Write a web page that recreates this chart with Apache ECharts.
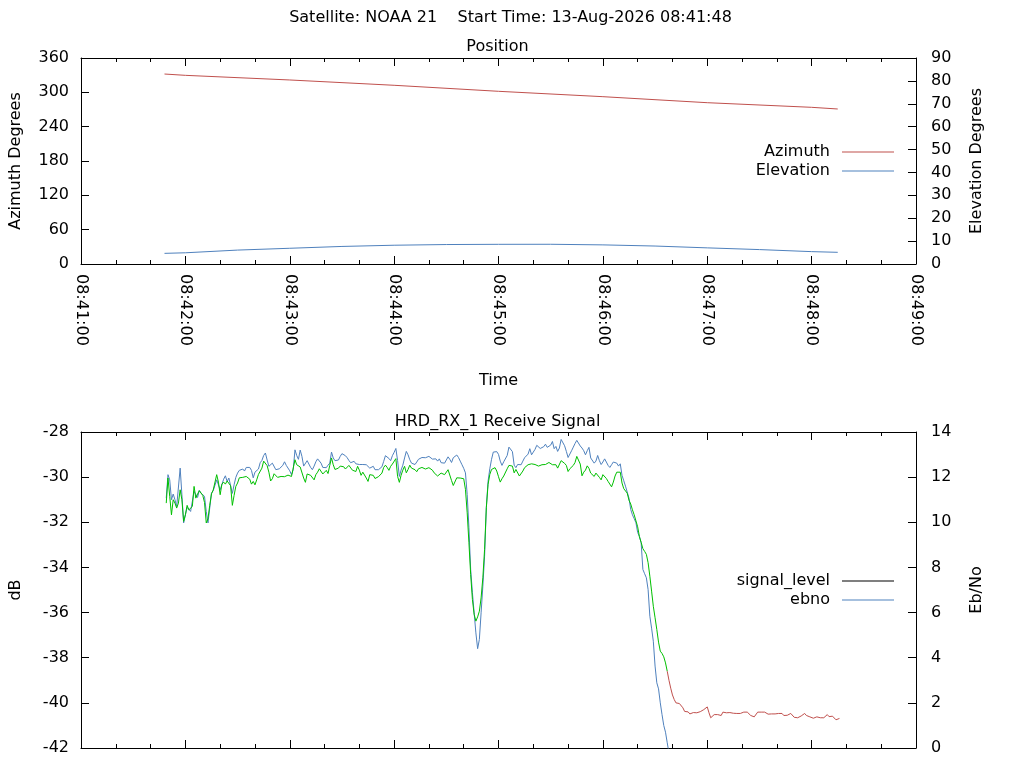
<!DOCTYPE html>
<html>
<head>
<meta charset="utf-8">
<script src="https://cdn.jsdelivr.net/npm/echarts@6/dist/echarts.min.js"></script>
<style>html,body{margin:0;padding:0;background:#fff}#chart{width:1024px;height:768px}</style>
</head>
<body>
<div id="chart"></div>
<script>
// ---------- text ----------
const chartTitle = 'Satellite: NOAA 21    Start Time: 13-Aug-2026 08:41:48';
const positionTitle = 'Position';
const signalTitle = 'HRD_RX_1 Receive Signal';
const axisStartClock = [8, 41, 0];          // 08:41:00 = 0 s on the time axis
const axisEndSec = 480;                     // 08:49:00
const axisStepSec = 60;

// ---------- Position panel (seconds after 08:41:00) ----------
const azSeconds = [48, 60, 120, 180, 240, 300, 360, 420, 435];
const azimuth   = [332.0, 329.7, 321.6, 312.3, 301.8, 292.4, 281.9, 273.8, 270.9];
const elSeconds = [48, 60, 90, 120, 150, 180, 210, 240, 270, 300, 330, 360, 390, 420, 435];
const elevation = [4.65, 4.9, 6.08, 6.87, 7.67, 8.2, 8.5, 8.6, 8.62, 8.35, 7.85, 7.05, 6.3, 5.4, 5.1];

// ---------- Receive signal panel: 1 sample per second starting at 49 s ----------
const sampleStartSec = 49;
const lockLostSec = 337;   // signal drawn green while locked, red afterwards
const signalDb = [
 -31.15,-30.04,-30.85,-31.67,-31.00,-31.15,-31.37,-31.15,-30.56,-31.00,
 -31.96,-31.67,-31.25,-31.45,-31.52,-31.30,-30.41,-30.93,-30.75,-30.60,
 -30.63,-30.81,-31.12,-32.03,-31.84,-31.25,-30.74,-30.57,-30.63,-29.89,
 -30.22,-30.78,-30.31,-30.22,-30.31,-30.17,-30.14,-30.38,-31.25,-30.81,
 -30.41,-30.26,-30.03,-29.97,-30.01,-29.98,-29.97,-29.97,-30.09,-30.31,
 -30.19,-30.34,-30.12,-29.88,-29.81,-29.60,-29.29,-29.27,-29.49,-29.78,
 -30.17,-30.07,-29.85,-29.89,-30.01,-30.00,-29.97,-30.01,-29.98,-30.03,
 -29.91,-29.89,-29.97,-30.04,-29.23,-29.45,-29.39,-29.55,-29.51,-30.04,
 -30.23,-29.86,-29.86,-29.92,-29.89,-30.12,-29.89,-29.78,-29.63,-29.70,
 -29.86,-29.84,-29.70,-29.84,-29.48,-29.15,-29.45,-29.66,-29.60,-29.60,
 -29.51,-29.47,-29.54,-29.64,-29.57,-29.48,-29.51,-29.69,-29.66,-29.75,
 -29.52,-29.69,-29.92,-29.78,-29.82,-30.04,-30.19,-29.89,-29.82,-29.92,
 -30.06,-30.10,-29.98,-30.01,-29.82,-29.57,-29.47,-29.57,-29.70,-29.52,
 -29.42,-29.39,-29.18,-29.97,-30.23,-29.92,-29.69,-29.52,-29.81,-29.66,
 -29.47,-29.60,-29.54,-29.67,-29.76,-29.63,-29.64,-29.57,-29.55,-29.64,
 -29.57,-29.58,-29.66,-29.69,-29.81,-29.88,-29.95,-29.89,-29.82,-29.82,
 -29.89,-29.81,-29.67,-29.73,-30.15,-30.37,-30.34,-30.03,-30.00,-30.04,
 -30.01,-30.07,-30.54,-31.58,-32.91,-34.31,-35.42,-36.08,-36.38,-36.19,
 -35.94,-35.35,-34.46,-33.20,-31.36,-30.32,-29.88,-29.66,-29.58,-29.58,
 -29.73,-29.98,-30.22,-30.07,-29.95,-29.88,-29.63,-29.48,-29.44,-29.51,
 -29.81,-29.66,-29.73,-29.95,-29.88,-29.73,-29.58,-29.51,-29.45,-29.44,
 -29.41,-29.41,-29.44,-29.48,-29.51,-29.57,-29.45,-29.38,-29.44,-29.51,
 -29.35,-29.36,-29.45,-29.52,-29.45,-29.60,-29.60,-29.27,-29.21,-29.39,
 -29.48,-29.75,-29.63,-29.61,-29.48,-29.35,-29.08,-29.15,-29.42,-29.94,
 -29.78,-29.69,-29.50,-29.61,-29.82,-29.89,-29.97,-29.82,-29.81,-30.01,
 -30.12,-29.89,-29.92,-30.06,-30.19,-30.26,-30.43,-30.22,-29.95,-29.78,
 -29.84,-29.78,-30.26,-30.51,-30.56,-30.71,-31.02,-31.19,-31.45,-31.67,
 -31.71,-32.20,-32.64,-32.89,-33.17,-33.29,-33.42,-33.79,-34.39,-35.05,
 -35.72,-36.23,-36.75,-37.31,-37.71,-37.81,-37.96,-38.23,-38.60,-39.00,
 -39.35,-39.65,-39.85,-40.00,-40.07,-40.03,-40.09,-40.22,-40.38,-40.41,
 -40.40,-40.49,-40.43,-40.43,-40.44,-40.44,-40.44,-40.39,-40.44,-40.30,
 -40.37,-40.18,-40.44,-40.66,-40.59,-40.52,-40.47,-40.52,-40.53,-40.56,
 -40.41,-40.44,-40.44,-40.44,-40.43,-40.44,-40.46,-40.47,-40.47,-40.47,
 -40.47,-40.41,-40.41,-40.41,-40.41,-40.49,-40.56,-40.52,-40.62,-40.66,
 -40.41,-40.41,-40.41,-40.41,-40.41,-40.43,-40.50,-40.55,-40.49,-40.55,
 -40.49,-40.47,-40.47,-40.47,-40.47,-40.56,-40.56,-40.55,-40.49,-40.47,
 -40.55,-40.64,-40.59,-40.66,-40.58,-40.58,-40.50,-40.47,-40.56,-40.62,
 -40.62,-40.61,-40.68,-40.62,-40.62,-40.62,-40.66,-40.59,-40.66,-40.66,
 -40.52,-40.61,-40.68,-40.59,-40.66,-40.75,-40.75,-40.69
];
const ebno = [
 11.07,12.11,11.88,11.00,11.25,11.00,10.70,10.75,12.40,11.22,
 9.97,10.33,10.66,10.70,10.48,10.47,11.37,11.44,11.10,11.41,
 11.29,11.37,11.15,10.48,9.97,10.63,11.29,11.40,11.44,11.88,
 11.87,11.44,11.48,11.91,12.06,11.81,11.96,11.90,11.28,11.66,
 11.99,12.18,12.30,12.37,12.36,12.27,12.43,12.42,12.43,12.30,
 11.97,12.22,12.18,12.36,12.64,12.74,12.96,13.07,12.76,12.48,
 12.43,12.62,12.55,12.33,12.30,12.37,12.30,12.52,12.68,12.52,
 12.53,12.28,12.11,12.33,13.21,12.96,12.79,13.20,12.92,12.49,
 12.42,12.73,12.74,12.43,12.33,12.49,12.68,12.81,12.89,12.62,
 12.43,12.48,12.42,12.53,12.62,13.11,12.85,12.73,12.70,12.76,
 12.92,13.04,13.02,12.95,12.86,12.74,12.64,12.67,12.70,12.59,
 12.58,12.56,12.61,12.56,12.50,12.55,12.48,12.40,12.48,12.48,
 12.33,12.33,12.33,12.36,12.46,12.70,12.95,12.96,12.83,12.73,
 12.95,13.10,13.27,12.73,12.03,12.31,12.53,12.85,13.14,12.99,
 12.77,12.62,12.55,12.56,12.67,12.79,12.86,12.87,12.86,12.86,
 12.90,12.92,12.89,12.80,12.83,12.81,12.71,12.81,12.64,12.70,
 12.62,12.76,12.90,12.79,12.65,12.86,12.93,12.98,12.87,12.71,
 12.55,12.39,12.19,11.23,9.76,7.91,6.88,5.99,5.10,4.40,
 4.81,5.99,7.17,8.50,10.64,11.82,12.37,12.79,13.11,13.15,
 13.13,13.01,12.71,12.52,12.68,12.68,12.96,13.33,13.35,13.13,
 12.53,12.42,12.56,12.49,12.55,12.71,12.86,12.93,13.02,13.26,
 12.99,13.11,13.23,13.41,13.39,13.27,13.26,13.35,13.46,13.32,
 13.33,13.42,13.58,13.26,13.36,13.14,13.29,13.67,13.66,13.39,
 13.14,12.87,12.95,13.17,13.33,13.49,13.63,13.58,13.38,13.29,
 13.17,12.99,13.17,13.32,12.85,12.77,12.62,12.71,12.96,12.73,
 12.56,12.67,12.81,12.67,12.52,12.43,12.55,12.67,12.65,12.62,
 12.49,12.59,12.08,11.84,11.60,11.55,11.07,10.57,10.33,10.16,
 9.98,9.55,9.37,9.09,7.91,7.72,7.54,7.02,5.84,5.31,
 4.73,3.63,2.89,2.62,2.00,1.48,1.00,0.70,0.23,-0.22
];

// ---------- colours ----------
const RED = '#c0504d', BLUE = '#4f81bd', GREEN = '#00c000', BLACK = '#000000';
const FONT = 'DejaVu Sans';
const txt = { fontFamily: FONT, fontSize: 16, color: '#000' };

function clock(sec) {
  const s = axisStartClock[0] * 3600 + axisStartClock[1] * 60 + axisStartClock[2] + sec;
  const h = Math.floor(s / 3600), m = Math.floor((s % 3600) / 60), ss = s % 60;
  return [h, m, ss].map(v => String(v).padStart(2, '0')).join(':');
}

function xAxisCfg(gridIndex, position, showLabels, name) {
  return {
    type: 'value', gridIndex, position, min: 0, max: axisEndSec, interval: axisStepSec,
    axisLine: { show: true, onZero: false, lineStyle: { color: '#000', width: 1 } },
    axisTick: { show: true, inside: true, length: 8, lineStyle: { color: '#000', width: 1 } },
    minorTick: { show: true, splitNumber: 3, length: 4, lineStyle: { color: '#000', width: 1 } },
    splitLine: { show: false }, minorSplitLine: { show: false },
    axisLabel: Object.assign({ show: showLabels, rotate: -90, margin: 10, formatter: clock,
                               showMinLabel: true, showMaxLabel: true }, txt),
    name: name || '', nameLocation: 'middle', nameGap: 109, nameTextStyle: txt
  };
}
function yAxisCfg(gridIndex, position, min, max, interval, name, margin, nameGap) {
  return {
    type: 'value', gridIndex, position, min, max, interval,
    axisLine: { show: true, onZero: false, lineStyle: { color: '#000', width: 1 } },
    axisTick: { show: true, inside: true, length: 8, lineStyle: { color: '#000', width: 1 } },
    splitLine: { show: false },
    axisLabel: Object.assign({ margin, showMinLabel: true, showMaxLabel: true }, txt),
    name, nameLocation: 'middle', nameRotate: 90, nameGap, nameTextStyle: txt
  };
}

const azData = azSeconds.map((t, i) => [t, azimuth[i]]);
const elData = elSeconds.map((t, i) => [t, elevation[i]]);
const sigData = signalDb.map((v, i) => [sampleStartSec + i, v]);
const lockedData = sigData.filter(d => d[0] <= lockLostSec);
const unlockedData = sigData.filter(d => d[0] >= lockLostSec);
const ebnoData = ebno.map((v, i) => [sampleStartSec + i, v]);

function lineSeries(name, color, xi, yi, data) {
  return { name, type: 'line', xAxisIndex: xi, yAxisIndex: yi, data, symbol: 'none',
           showSymbol: false, animation: false, clip: true,
           lineStyle: { color, width: 1 }, itemStyle: { color } };
}

const legendBase = {
  orient: 'vertical', align: 'right', right: 130, itemWidth: 52, itemHeight: 1, itemGap: 3,
  padding: 0, icon: 'rect', selectedMode: false,
  textStyle: Object.assign({ lineHeight: 16, padding: [0, 7, 0, 0] }, txt)
};

const option = {
  backgroundColor: '#fff',
  animation: false,
  textStyle: { fontFamily: FONT },
  title: [
    { text: chartTitle, left: 510.5, textAlign: 'center', top: 10, padding: 0,
      textStyle: Object.assign({ fontWeight: 'normal' }, txt) },
    { text: positionTitle, left: 497.5, textAlign: 'center', top: 39, padding: 0,
      textStyle: Object.assign({ fontWeight: 'normal' }, txt) },
    { text: signalTitle, left: 497.5, textAlign: 'center', top: 414, padding: 0,
      textStyle: Object.assign({ fontWeight: 'normal' }, txt) }
  ],
  legend: [
    Object.assign({ data: ['Azimuth', 'Elevation'], top: 144 }, legendBase),
    Object.assign({ data: ['signal_level', 'ebno'], top: 573 }, legendBase)
  ],
  grid: [
    { left: 79, right: 108, top: 58, height: 206 },
    { left: 79, right: 108, top: 432, height: 316 }
  ],
  xAxis: [
    xAxisCfg(0, 'bottom', true, 'Time'),
    xAxisCfg(0, 'top', false, ''),
    xAxisCfg(1, 'bottom', false, ''),
    xAxisCfg(1, 'top', false, '')
  ],
  yAxis: [
    yAxisCfg(0, 'left', 0, 360, 60, 'Azimuth Degrees', 12, 57),
    yAxisCfg(0, 'right', 0, 90, 10, 'Elevation Degrees', 15, 53),
    yAxisCfg(1, 'left', -42, -28, 2, 'dB', 12, 57),
    yAxisCfg(1, 'right', 0, 14, 2, 'Eb/No', 15, 53)
  ],
  series: [
    lineSeries('Azimuth', RED, 0, 0, azData),
    lineSeries('Elevation', BLUE, 0, 1, elData),
    lineSeries('signal_level', BLACK, 2, 2, []),
    lineSeries('ebno', BLUE, 2, 3, ebnoData),
    lineSeries('signal_level (locked)', GREEN, 2, 2, lockedData),
    lineSeries('signal_level (unlocked)', RED, 2, 2, unlockedData)
  ]
};

const chart = echarts.init(document.getElementById('chart'), null, { renderer: 'canvas' });
chart.setOption(option);
</script>
</body>
</html>
